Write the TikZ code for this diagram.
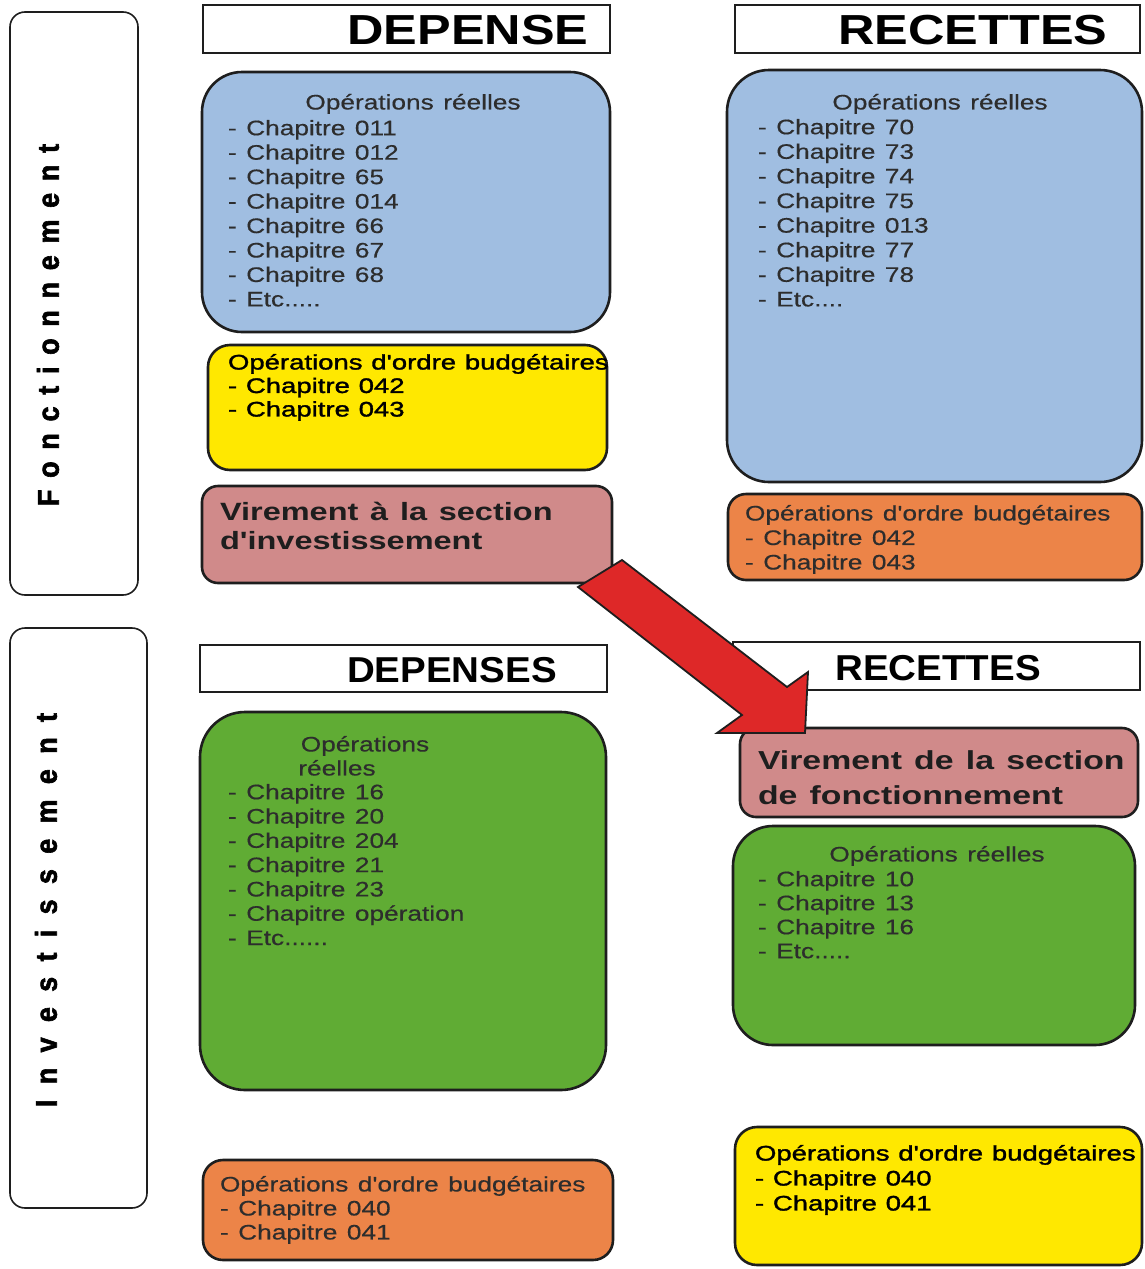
\documentclass[tikz,border=0pt]{standalone}
\usepackage{fontspec}
\setmainfont{Liberation Sans}
\newfontfamily\bodyf[FakeStretch=1.25,WordSpace=1.3,FakeBold=0.4]{Liberation Sans}
\newfontfamily\medf[FakeStretch=1.31,WordSpace=1.15,FakeBold=1.6]{Liberation Sans}
\newfontfamily\virf[FakeStretch=1.3,WordSpace=1.3]{Liberation Sans}
\newfontfamily\headf[FakeStretch=1.2]{Liberation Sans}
\newfontfamily\headg[FakeStretch=1.07]{Liberation Sans}
\newfontfamily\vertf[FakeStretch=0.9,LetterSpace=39,FakeBold=2]{Liberation Sans Bold}
\newfontfamily\vertg[FakeStretch=0.9,LetterSpace=51,FakeBold=2]{Liberation Sans Bold}
\definecolor{blueF}{RGB}{160,190,225}
\definecolor{yellowF}{RGB}{255,232,0}
\definecolor{pinkF}{RGB}{208,138,138}
\definecolor{orangeF}{RGB}{236,132,72}
\definecolor{greenF}{RGB}{96,172,52}
\definecolor{arrowF}{RGB}{222,40,40}
\definecolor{lineC}{RGB}{30,30,30}
\definecolor{txtC}{RGB}{45,45,45}
\tikzset{
  every node/.style={inner sep=0pt, outer sep=0pt},
  box/.style={draw=lineC, line width=2.6pt, anchor=north west},
  hbox/.style={draw=lineC, line width=2.2pt, anchor=north west, fill=white},
  lbox/.style={draw=lineC, line width=1.6pt, anchor=north west, rounded corners=15pt},
  hdr/.style={font=\headf\bfseries\fontsize{42}{42}\selectfont},
  hdrb/.style={font=\headg\bfseries\fontsize{36}{36}\selectfont},
  items/.style={anchor=north west, align=left, text=txtC, font=\bodyf\fontsize{21}{#1}\selectfont},
  itemsb/.style={anchor=north west, align=left, text=black, font=\medf\fontsize{21}{#1}\selectfont},
  ttl/.style={anchor=north, text=txtC, font=\bodyf\fontsize{21}{21}\selectfont},
  vir/.style={anchor=north west, align=left, text=lineC, font=\virf\bfseries\fontsize{25}{#1}\selectfont},
  virb/.style={anchor=north west, align=left, text=lineC, font=\virf\bfseries\fontsize{26}{#1}\selectfont},
  vert/.style={rotate=90},
}
\begin{document}
\begin{tikzpicture}[x=1pt,y=-1pt]
\fill[white] (0,0) rectangle (1144,1269);
\useasboundingbox (0,0) rectangle (1144,1269);
% side labels
\node[lbox, minimum width=128pt, minimum height=583pt] (lf) at (10,12) {};
\node[lbox, minimum width=137pt, minimum height=580pt] (li) at (10,628) {};
\node[vert, font=\vertf\fontsize{30}{30}\selectfont] (tf) at (48,325) {Fonctionnement};
\node[vert, font=\vertg\fontsize{30}{30}\selectfont] (ti) at (46,910) {Investissement};
% headers
\node[hbox, minimum width=407pt, minimum height=48pt] (h1) at (203,5) {};
\node[hbox, minimum width=405pt, minimum height=48pt] (h2) at (735,5) {};
\node[hdr] (h1t) at (468,30) {DEPENSE};
\node[hdr] (h2t) at (973,30) {RECETTES};
\node[hbox, minimum width=407pt, minimum height=47pt] (h3) at (200,645) {};
\node[hbox, minimum width=407pt, minimum height=48pt] (h4) at (733,642) {};
\node[hdrb] (h3t) at (452,670) {DEPENSES};
\node[hdrb] (h4t) at (938,668) {RECETTES};
% Fonctionnement depenses
\node[box, rounded corners=40pt, fill=blueF, minimum width=408pt, minimum height=260pt] (b1) at (202,72) {};
\node[ttl] (b1t) at (413,94) {Opérations réelles};
\node[items=24.45] (b1i) at (228,120) {- Chapitre 011\\- Chapitre 012\\- Chapitre 65\\- Chapitre 014\\- Chapitre 66\\- Chapitre 67\\- Chapitre 68\\- Etc.....};
\node[box, rounded corners=22pt, fill=yellowF, minimum width=399pt, minimum height=125pt] (y1) at (208,345) {};
\begin{scope}
\clip (208,340) rectangle (609,480);
\node[itemsb=23.5] (y1i) at (228,354) {Opérations d'ordre budgétaires\\- Chapitre 042\\- Chapitre 043};
\end{scope}
\node[box, rounded corners=16pt, fill=pinkF, minimum width=410pt, minimum height=97pt] (p1) at (202,486) {};
\node[vir=29] (p1i) at (220,502) {Virement à la section\\d'investissement};
% Fonctionnement recettes
\node[box, rounded corners=42pt, fill=blueF, minimum width=415pt, minimum height=412pt] (b2) at (727,70) {};
\node[ttl] (b2t) at (940,94) {Opérations réelles};
\node[items=24.6] (b2i) at (758,119) {- Chapitre 70\\- Chapitre 73\\- Chapitre 74\\- Chapitre 75\\- Chapitre 013\\- Chapitre 77\\- Chapitre 78\\- Etc....};
\node[box, rounded corners=18pt, fill=orangeF, minimum width=414pt, minimum height=86pt] (o1) at (728,494) {};
\node[items=24.5] (o1i) at (745,505) {Opérations d'ordre budgétaires\\- Chapitre 042\\- Chapitre 043};
% Investissement depenses
\node[box, rounded corners=45pt, fill=greenF, minimum width=406pt, minimum height=378pt] (g1) at (200,712) {};
\node[ttl] (g1t) at (365,736) {Opérations};
\node[ttl] (g1u) at (337,760) {réelles};
\node[items=24.3] (g1i) at (228,784) {- Chapitre 16\\- Chapitre 20\\- Chapitre 204\\- Chapitre 21\\- Chapitre 23\\- Chapitre opération\\- Etc......};
\node[box, rounded corners=20pt, fill=orangeF, minimum width=410pt, minimum height=100pt] (o2) at (203,1160) {};
\node[items=24] (o2i) at (220,1176) {Opérations d'ordre budgétaires\\- Chapitre 040\\- Chapitre 041};
% Investissement recettes
\node[box, rounded corners=16pt, fill=pinkF, minimum width=398pt, minimum height=89pt] (p2) at (740,728) {};
\node[virb=35] (p2i) at (758,751) {Virement de la section\\de fonctionnement};
\node[box, rounded corners=40pt, fill=greenF, minimum width=402pt, minimum height=219pt] (g2) at (733,826) {};
\node[ttl] (g2t) at (937,846) {Opérations réelles};
\node[items=24] (g2i) at (758,871) {- Chapitre 10\\- Chapitre 13\\- Chapitre 16\\- Etc.....};
\node[box, rounded corners=22pt, fill=yellowF, minimum width=407pt, minimum height=138pt] (y2) at (735,1127) {};
\begin{scope}
\clip (735,1120) rectangle (1140,1270);
\node[itemsb=25] (y2i) at (755,1145) {Opérations d'ordre budgétaires\\- Chapitre 040\\- Chapitre 041};
\end{scope}
% block arrow from p1 to p2
\draw[fill=arrowF, draw=lineC, line width=1.8pt, line join=miter]
  (578,587) -- (622,560) -- (787,687) -- (808,672) -- (805,733) -- (717,733) -- (742,715) -- cycle;
\end{tikzpicture}
\end{document}
